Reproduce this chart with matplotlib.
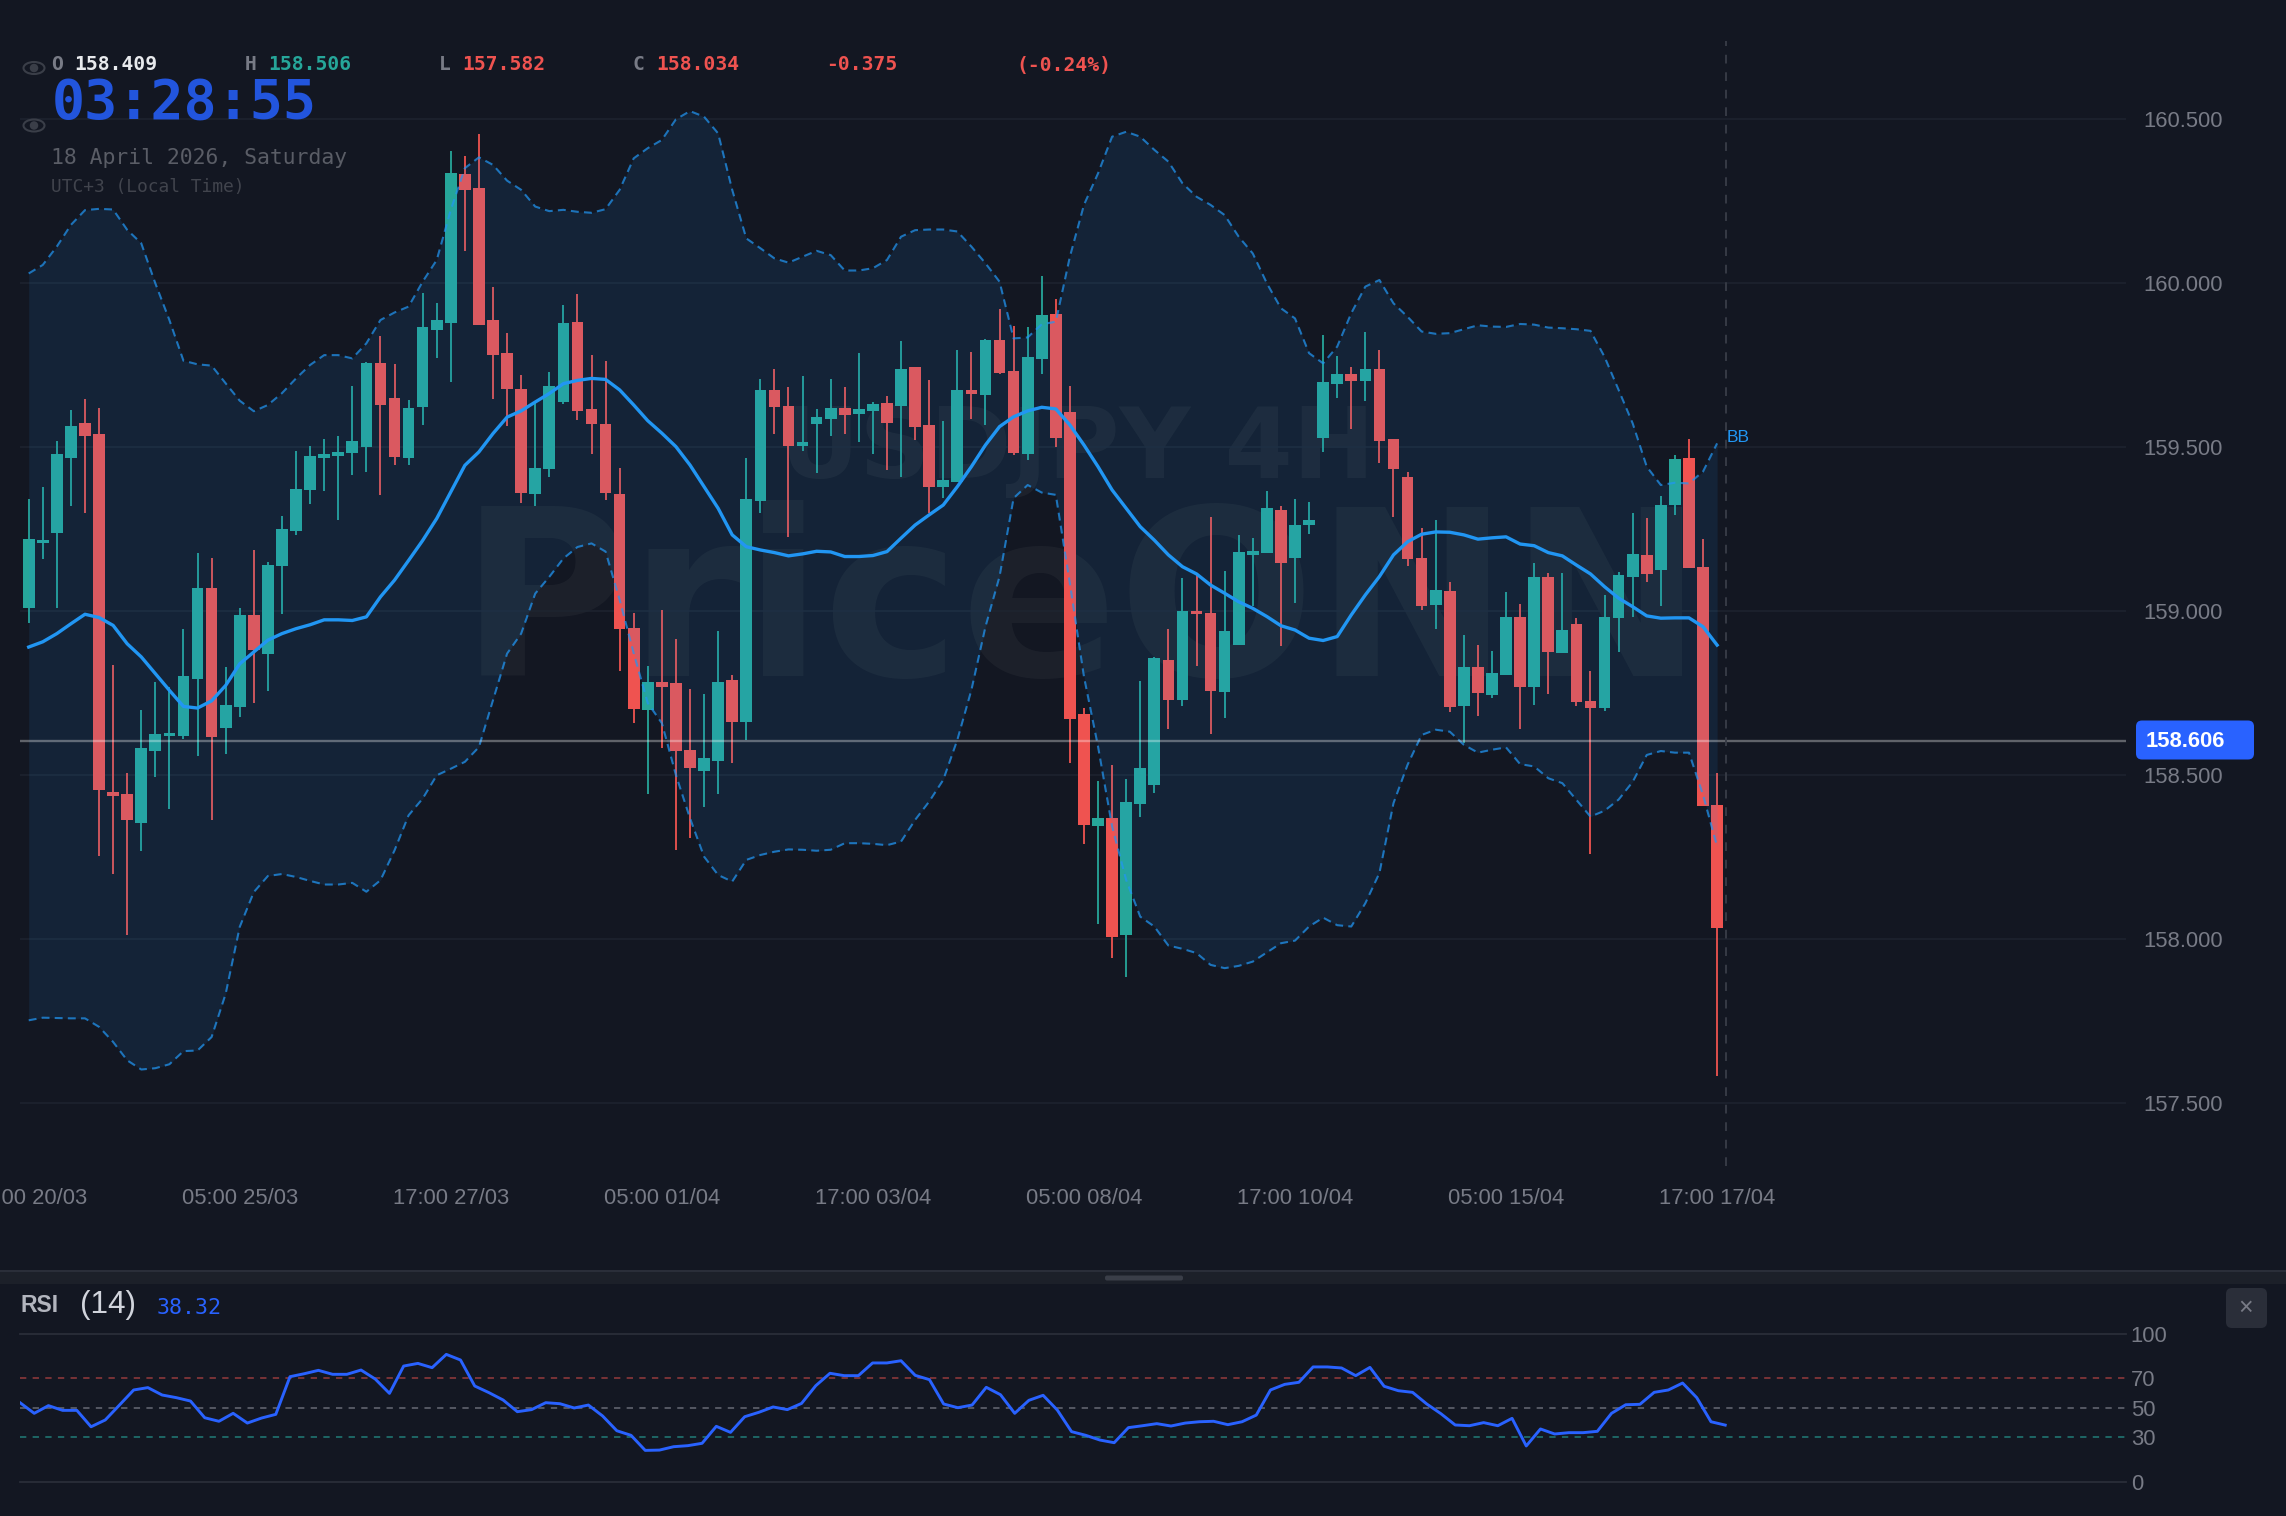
import matplotlib
matplotlib.use('Agg')
import matplotlib.pyplot as plt
from matplotlib.patches import FancyBboxPatch, Ellipse, Rectangle
import numpy as np

W, H = 2286, 1516
BG = '#131722'
TEAL = '#26a69a'
RED = '#ef5350'
BLUE = '#2196f3'
RSI_BLUE = '#2962ff'
GREY = '#787b86'

# 4H candles
opens = [159.010, 159.207, 159.238, 159.467, 159.575, 159.541, 158.450, 158.444, 158.356, 158.574,
         158.619, 158.620, 158.794, 159.072, 158.643, 158.707, 158.988, 158.870, 159.138, 159.246,
         159.371, 159.468, 159.475, 159.483, 159.500, 159.758, 159.651, 159.467, 159.624, 159.859,
         159.880, 160.334, 160.290, 159.887, 159.788, 159.679, 159.359, 159.433, 159.638, 159.881,
         159.617, 159.570, 159.359, 158.948, 158.699, 158.783, 158.780, 158.578, 158.514, 158.544,
         158.790, 158.664, 159.336, 159.674, 159.626, 159.504, 159.570, 159.587, 159.620, 159.602,
         159.610, 159.634, 159.626, 159.744, 159.568, 159.378, 159.394, 159.674, 159.659, 159.828,
         159.734, 159.481, 159.770, 159.907, 159.608, 158.687, 158.346, 158.370, 158.014, 158.414,
         158.469, 158.851, 158.730, 159.002, 158.996, 158.755, 158.897, 159.173, 159.179, 159.309,
         159.161, 159.262, 159.527, 159.693, 159.723, 159.702, 159.738, 159.524, 159.410, 159.161,
         159.020, 159.063, 158.711, 158.831, 158.745, 158.807, 158.983, 158.768, 159.105, 158.872,
         158.961, 158.727, 158.706, 158.979, 159.105, 159.172, 159.126, 159.325, 159.467, 159.134, 158.409]
closes = [159.220, 159.218, 159.480, 159.565, 159.535, 158.455, 158.437, 158.363, 158.582, 158.627,
          158.629, 158.802, 159.071, 158.618, 158.713, 158.988, 158.881, 159.142, 159.252, 159.374,
          159.475, 159.481, 159.487, 159.518, 159.758, 159.630, 159.470, 159.619, 159.866, 159.887,
          160.335, 160.285, 159.873, 159.780, 159.678, 159.362, 159.436, 159.687, 159.879, 159.612,
          159.571, 159.360, 158.945, 158.702, 158.783, 158.770, 158.573, 158.522, 158.553, 158.784,
          158.664, 159.341, 159.674, 159.623, 159.504, 159.516, 159.593, 159.621, 159.600, 159.616,
          159.632, 159.575, 159.739, 159.563, 159.379, 159.400, 159.675, 159.663, 159.826, 159.727,
          159.484, 159.776, 159.903, 159.529, 158.671, 158.348, 158.371, 158.008, 158.418, 158.522,
          158.857, 158.730, 159.000, 158.992, 158.756, 158.940, 159.181, 159.184, 159.316, 159.148,
          159.264, 159.278, 159.698, 159.723, 159.701, 159.740, 159.518, 159.433, 159.159, 159.017,
          159.064, 158.707, 158.830, 158.751, 158.811, 158.983, 158.768, 159.105, 158.875, 158.944,
          158.722, 158.706, 158.983, 159.111, 159.175, 159.114, 159.324, 159.465, 159.131, 158.405, 158.034]
highs = [159.343, 159.379, 159.520, 159.613, 159.647, 159.621, 158.837, 158.507, 158.700, 158.783,
         158.768, 158.947, 159.179, 159.162, 158.830, 159.010, 159.188, 159.150, 159.291, 159.489,
         159.504, 159.526, 159.534, 159.688, 159.761, 159.839, 159.753, 159.643, 159.970, 159.941,
         160.404, 160.387, 160.454, 159.990, 159.849, 159.719, 159.634, 159.729, 159.934, 159.966,
         159.780, 159.764, 159.436, 158.994, 158.833, 159.004, 158.915, 158.764, 158.749, 158.941,
         158.805, 159.468, 159.707, 159.738, 159.684, 159.717, 159.617, 159.707, 159.684, 159.786,
         159.638, 159.657, 159.824, 159.744, 159.704, 159.581, 159.796, 159.790, 159.829, 159.921,
         159.871, 159.866, 160.022, 159.951, 159.686, 158.705, 158.482, 158.530, 158.490, 158.788,
         158.862, 158.946, 159.102, 159.111, 159.289, 159.122, 159.233, 159.224, 159.368, 159.321,
         159.341, 159.333, 159.842, 159.777, 159.744, 159.853, 159.797, 159.524, 159.426, 159.255,
         159.277, 159.088, 158.927, 158.897, 158.879, 159.059, 159.021, 159.146, 159.116, 159.116,
         158.979, 158.819, 159.050, 159.119, 159.299, 159.284, 159.351, 159.476, 159.524, 159.220, 158.506]
lows = [158.964, 159.158, 159.010, 159.320, 159.301, 158.254, 158.198, 158.012, 158.268, 158.494,
        158.397, 158.612, 158.558, 158.363, 158.565, 158.679, 158.721, 158.758, 158.993, 159.234,
        159.327, 159.367, 159.278, 159.415, 159.424, 159.356, 159.446, 159.446, 159.567, 159.773,
        159.698, 160.100, 159.873, 159.648, 159.564, 159.331, 159.321, 159.409, 159.632, 159.582,
        159.479, 159.340, 158.817, 158.659, 158.444, 158.582, 158.271, 158.309, 158.403, 158.444,
        158.539, 158.608, 159.300, 159.542, 159.228, 159.490, 159.423, 159.533, 159.540, 159.517,
        159.480, 159.431, 159.410, 159.521, 159.300, 159.345, 159.394, 159.587, 159.567, 159.725,
        159.476, 159.461, 159.722, 159.502, 158.537, 158.291, 158.046, 157.944, 157.884, 158.374,
        158.447, 158.640, 158.712, 158.833, 158.627, 158.674, 158.897, 159.016, 159.179, 158.894,
        159.026, 159.237, 159.487, 159.650, 159.557, 159.642, 159.453, 159.286, 159.139, 159.005,
        158.945, 158.693, 158.600, 158.680, 158.735, 158.807, 158.641, 158.714, 158.749, 158.872,
        158.712, 158.259, 158.696, 158.875, 158.983, 159.090, 159.016, 159.294, 159.131, 158.405, 157.582]

# Bollinger bands
bb_upper = [160.030, 160.056, 160.112, 160.178, 160.223, 160.227, 160.225, 160.163, 160.122, 160.000,
            159.888, 159.764, 159.753, 159.749, 159.695, 159.642, 159.610, 159.629, 159.665, 159.710,
            159.751, 159.781, 159.781, 159.771, 159.817, 159.888, 159.911, 159.929, 160.005, 160.071,
            160.224, 160.351, 160.384, 160.361, 160.313, 160.285, 160.234, 160.220, 160.224, 160.218,
            160.215, 160.226, 160.285, 160.381, 160.412, 160.437, 160.500, 160.525, 160.508, 160.457,
            160.285, 160.137, 160.107, 160.076, 160.063, 160.081, 160.099, 160.086, 160.039, 160.039,
            160.046, 160.071, 160.142, 160.162, 160.164, 160.164, 160.158, 160.112, 160.061, 160.005,
            159.832, 159.835, 159.875, 159.883, 160.081, 160.239, 160.335, 160.447, 160.462, 160.447,
            160.407, 160.371, 160.305, 160.264, 160.239, 160.208, 160.142, 160.091, 160.000, 159.924,
            159.893, 159.787, 159.756, 159.807, 159.909, 159.990, 160.010, 159.939, 159.898, 159.853,
            159.846, 159.848, 159.860, 159.872, 159.868, 159.867, 159.876, 159.874, 159.865, 159.863,
            159.860, 159.855, 159.776, 159.675, 159.573, 159.441, 159.385, 159.392, 159.390, 159.426, 159.512]
bb_lower = [157.753, 157.761, 157.760, 157.759, 157.759, 157.733, 157.687, 157.631, 157.603, 157.607,
            157.619, 157.659, 157.661, 157.702, 157.834, 158.038, 158.144, 158.193, 158.199, 158.190,
            158.178, 158.167, 158.167, 158.172, 158.145, 158.180, 158.271, 158.378, 158.429, 158.500,
            158.520, 158.541, 158.586, 158.729, 158.871, 158.932, 159.054, 159.105, 159.161, 159.196,
            159.207, 159.182, 159.035, 158.872, 158.720, 158.659, 158.501, 158.369, 158.252, 158.196,
            158.176, 158.242, 158.257, 158.267, 158.274, 158.273, 158.270, 158.273, 158.293, 158.293,
            158.291, 158.287, 158.298, 158.364, 158.420, 158.486, 158.608, 158.760, 158.953, 159.106,
            159.345, 159.385, 159.362, 159.355, 159.085, 158.801, 158.588, 158.344, 158.181, 158.069,
            158.039, 157.981, 157.971, 157.958, 157.922, 157.912, 157.919, 157.932, 157.960, 157.988,
            157.996, 158.039, 158.066, 158.043, 158.039, 158.110, 158.202, 158.415, 158.532, 158.623,
            158.639, 158.633, 158.593, 158.569, 158.578, 158.585, 158.534, 158.527, 158.491, 158.476,
            158.425, 158.374, 158.392, 158.426, 158.480, 158.562, 158.574, 158.569, 158.569, 158.440, 158.283]
bb_mid = [158.891, 158.907, 158.932, 158.962, 158.991, 158.981, 158.957, 158.901, 158.861, 158.810,
          158.759, 158.710, 158.705, 158.727, 158.774, 158.840, 158.876, 158.912, 158.932, 158.947,
          158.959, 158.974, 158.974, 158.972, 158.983, 159.044, 159.095, 159.155, 159.216, 159.283,
          159.364, 159.445, 159.486, 159.542, 159.592, 159.611, 159.638, 159.664, 159.694, 159.704,
          159.710, 159.707, 159.675, 159.629, 159.581, 159.543, 159.502, 159.446, 159.380, 159.314,
          159.233, 159.197, 159.187, 159.179, 159.169, 159.175, 159.183, 159.181, 159.167, 159.167,
          159.170, 159.182, 159.223, 159.263, 159.294, 159.324, 159.380, 159.441, 159.507, 159.563,
          159.593, 159.611, 159.622, 159.617, 159.568, 159.507, 159.441, 159.370, 159.314, 159.258,
          159.217, 159.172, 159.136, 159.114, 159.080, 159.055, 159.029, 159.009, 158.984, 158.956,
          158.943, 158.918, 158.911, 158.923, 158.989, 159.050, 159.106, 159.172, 159.212, 159.235,
          159.242, 159.241, 159.233, 159.220, 159.224, 159.227, 159.205, 159.200, 159.179, 159.169,
          159.141, 159.114, 159.075, 159.040, 159.014, 158.986, 158.979, 158.980, 158.980, 158.953, 158.897]

# RSI(14)
rsi = [53.5, 46.3, 51.5, 48.3, 48.3, 37.2, 41.8, 51.9, 62.1, 63.7,
       58.7, 56.9, 54.6, 43.3, 40.9, 46.3, 39.7, 43.1, 45.6, 71.1,
       73.1, 75.4, 72.7, 72.7, 75.6, 69.5, 59.8, 78.3, 80.1, 77.2,
       86.2, 82.4, 64.8, 60.3, 55.3, 47.4, 48.8, 53.5, 52.8, 49.9,
       51.9, 44.5, 34.5, 31.4, 21.2, 21.4, 23.7, 24.4, 26.0, 37.5,
       33.4, 44.0, 47.0, 50.6, 48.8, 53.0, 65.0, 73.4, 71.8, 71.8,
       80.4, 80.4, 81.9, 72.0, 69.1, 52.6, 50.1, 51.9, 63.9, 58.9,
       46.3, 55.1, 58.5, 48.5, 33.9, 31.4, 28.2, 26.4, 36.6, 37.9,
       39.3, 37.7, 39.7, 40.6, 40.9, 38.6, 40.6, 45.1, 62.1, 65.9,
       67.3, 77.7, 77.7, 77.0, 71.8, 77.4, 64.6, 61.6, 60.5, 52.6,
       46.0, 38.4, 37.9, 40.0, 37.9, 42.9, 24.2, 35.7, 32.3, 33.2,
       33.2, 34.1, 46.3, 52.1, 52.4, 60.5, 62.1, 66.8, 56.9, 40.6, 38.32]

last_price = 158.606
price_ticks = [157.5, 158.0, 158.5, 159.0, 159.5, 160.0, 160.5]
time_tick_pos = [0, 15, 30, 45, 60, 75, 90, 105, 120]
time_tick_labels = ['17:00 20/03', '05:00 25/03', '17:00 27/03', '05:00 01/04', '17:00 03/04',
                    '05:00 08/04', '17:00 10/04', '05:00 15/04', '17:00 17/04']
rsi_ticks = [0, 30, 50, 70, 100]

plt.rcParams['font.family'] = ['Liberation Sans', 'DejaVu Sans']
MONO = 'DejaVu Sans Mono'
BAR_STEP = 14.07


def axes_box(left, top, right, bottom):
    return [left / W, 1 - bottom / H, (right - left) / W, (bottom - top) / H]


def label(x, y, s, px, color, **kw):
    kw.setdefault('va', 'center')
    return fig.text(x / W, 1 - y / H, s, fontsize=px * 0.72, color=color, **kw)


fig = plt.figure(figsize=(W / 100, H / 100), dpi=100, facecolor=BG)

# watermark sits under the price axes
label(780, 451, 'USDJPY 4H', 98, '#ffffff', family='DejaVu Sans', weight='bold', alpha=0.045,
      zorder=-1, ha='left')
label(460, 612, 'PriceONN', 232, '#ffffff', family='DejaVu Sans', weight='bold', alpha=0.04,
      zorder=-1, ha='left')

# price panel
ax = fig.add_axes(axes_box(20, 41, 2126, 1166))
ax.patch.set_visible(False)
for s in ax.spines.values():
    s.set_visible(False)
x = np.arange(len(opens))
ax.set_xlim((20 - 28.7) / BAR_STEP, (2126 - 28.7) / BAR_STEP)
ax.set_ylim(160.5 - (1166 - 119.3) / 328, 160.5 + (119.3 - 41) / 328)
ax.yaxis.tick_right()
ax.set_yticks(price_ticks)
ax.set_yticklabels(['%.3f' % p for p in price_ticks])
ax.set_xticks(time_tick_pos)
ax.set_xticklabels(time_tick_labels)
ax.tick_params(axis='y', length=0, pad=12.4, labelsize=15.8, labelcolor=GREY)
ax.tick_params(axis='x', length=0, pad=16, labelsize=15.8, labelcolor=GREY)
ax.grid(axis='y', color='#1e2430', lw=1.1, zorder=0)
ax.set_axisbelow(True)

o, c, hi, lo = map(np.array, (opens, closes, highs, lows))
colors = np.where(c >= o, TEAL, RED)
ax.vlines(x, lo, hi, colors=colors, lw=1.3, zorder=2)
ax.bar(x, np.abs(c - o), bottom=np.minimum(o, c), width=0.83, color=colors, linewidth=0, zorder=2.1)

ax.fill_between(x, bb_lower, bb_upper, color=BLUE, alpha=0.1, linewidth=0, zorder=3)
for band in (bb_upper, bb_lower):
    ax.plot(x, band, color=BLUE, alpha=0.72, lw=1.5, ls=(0, (3.8, 2.5)), zorder=3.2)
ax.plot(x, bb_mid, color=BLUE, lw=2.4, zorder=3.4, solid_joinstyle='round')

ax.axhline(last_price, color='#ffffff', alpha=0.33, lw=1.7, zorder=4)
ax.axvline(120.6, color='#363a45', lw=1.4, ls=(0, (4.5, 4.5)), zorder=4)

# RSI panel
ax2 = fig.add_axes(axes_box(20, 1334, 2126, 1481.7))
ax2.patch.set_visible(False)
for s in ax2.spines.values():
    s.set_visible(False)
ax2.set_xlim(0, (2126 - 20) / 14.21)
ax2.set_ylim(0, 100)
ax2.yaxis.tick_right()
ax2.set_yticks(rsi_ticks)
ax2.set_yticklabels([str(t) for t in rsi_ticks])
ax2.set_xticks([])
ax2.tick_params(axis='y', length=0, pad=3.4, labelsize=15.8, labelcolor=GREY)
ax2.axhline(100, color='#2a2e39', lw=1.3, clip_on=False)
ax2.axhline(0, color='#2a2e39', lw=1.3, clip_on=False)
ax2.axhline(70, color=RED, alpha=0.5, lw=1.3, ls=(0, (3.5, 3.5)))
ax2.axhline(50, color=GREY, alpha=0.7, lw=1.3, ls=(0, (3.5, 3.5)))
ax2.axhline(30, color=TEAL, alpha=0.6, lw=1.3, ls=(0, (3.5, 3.5)))
ax2.plot(np.arange(len(rsi)), rsi, color=RSI_BLUE, lw=2.1, zorder=3)

# interface layer drawn in pixel coordinates
ui = fig.add_axes([0, 0, 1, 1], zorder=5)
ui.set_xlim(0, W)
ui.set_ylim(H, 0)
ui.axis('off')
ui.patch.set_visible(False)

ui.add_patch(Rectangle((0, 1270), W, 14, fc='#1c2029', ec='none'))
ui.add_patch(Rectangle((0, 1270), W, 2.4, fc='#2a2e39', ec='none'))
ui.add_patch(FancyBboxPatch((1106, 1276.5), 76, 3, boxstyle='round,pad=1,rounding_size=2',
                            fc='#3a3e48', ec='none'))
ui.add_patch(FancyBboxPatch((2230, 1292), 33, 32, boxstyle='round,pad=4,rounding_size=6',
                            fc='#2a2e39', ec='none'))
ui.text(2246, 1308, '\u00d7', fontsize=18, color=GREY, ha='center', va='center')

ui.add_patch(FancyBboxPatch((2140, 724.5), 110, 31, boxstyle='round,pad=4,rounding_size=6',
                            fc=RSI_BLUE, ec='none'))
ui.text(2146, 741.5, '%.3f' % last_price, fontsize=15.8, weight='bold', color='white', va='center')
ui.text(1727, 437, 'BB', fontsize=12.5, color=BLUE, va='center')

for ey in (68, 125.5):
    ui.add_patch(Ellipse((34, ey), 21, 12, fc='none', ec='#3a3e48', lw=1.5))
    ui.add_patch(Ellipse((34, ey), 8.5, 8.5, fc='#3a3e48', ec='none'))

# OHLC legend
legend_items = [(51, 'O', GREY), (74, '158.409', '#e8eaed'),
                (245, 'H', GREY), (268, '158.506', TEAL),
                (439, 'L', GREY), (462, '157.582', RED),
                (633, 'C', GREY), (656, '158.034', RED),
                (826.5, '-0.375', RED), (1016, '(-0.24%)', RED)]
for lx, s, col in legend_items:
    label(lx, 65, s, 19.6, col, family=MONO, weight='bold')

label(52, 119, '03:28:55', 55, '#2255dd', family=MONO, weight='bold', va='baseline')
label(51, 157.5, '18 April 2026, Saturday', 21.4, '#5a5d66', family=MONO)
label(51, 186.5, 'UTC+3 (Local Time)', 17.9, '#41444d', family=MONO)

label(20, 1306, 'RSI', 23, '#b2b5be', weight='bold')
label(80, 1305, '(14)', 31.5, '#d1d4dc')
label(157, 1308, '38.32', 21.6, RSI_BLUE, family=MONO)

fig.savefig('out.png', dpi=100, facecolor=BG)
